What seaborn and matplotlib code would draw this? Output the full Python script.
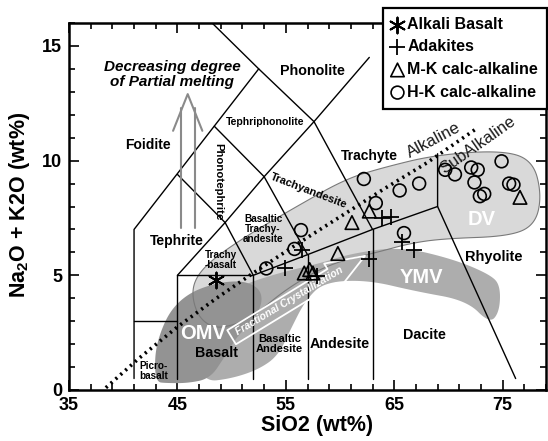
import numpy as np
import matplotlib
matplotlib.use("Agg")
import matplotlib.pyplot as plt
import seaborn as sns
from matplotlib.ticker import FixedLocator

# ---------------------------------------------------------------- data
# Total alkali vs silica of the analysed samples (wt%)
alkali_basalt_sio2 = [48.6]
alkali_basalt_alk = [4.8]

adakite_sio2 = [54.9, 56.5, 57.9, 62.7, 63.9, 64.7, 65.7, 66.8]
adakite_alk = [5.3, 6.1, 4.95, 5.7, 7.5, 7.55, 6.45, 6.1]

mk_sio2 = [56.7, 57.2, 57.5, 59.8, 61.1, 62.7, 76.6]
mk_alk = [5.1, 5.25, 5.1, 5.95, 7.3, 7.8, 8.4]

hk_sio2 = [53.2, 55.8, 56.4, 62.2, 63.3, 65.5, 67.3, 65.9, 69.7, 70.6,
           72.1, 72.7, 72.4, 72.9, 73.3, 74.9, 75.6, 76.0]
hk_alk = [5.3, 6.15, 6.97, 9.2, 8.15, 8.7, 9.0, 6.84, 9.6, 9.4,
          9.7, 9.6, 9.05, 8.45, 8.55, 9.97, 9.0, 8.95]

series_labels = ["Alkali Basalt", "Adakites", "M-K calc-alkaline", "H-K calc-alkaline"]

# TAS classification boundaries (Le Bas et al., 1986)
tas_boundaries = [
    [(41, 0.5), (41, 7), (52.5, 14)],
    [(41, 3), (45, 3)],
    [(45, 0.5), (45, 5), (52, 5), (52, 0.5)],
    [(45, 5), (49.4, 7.3), (53, 9.3), (57.6, 11.7), (62.7, 14.5)],
    [(49.4, 7.3), (52, 5)],
    [(45, 9.4), (49.4, 7.3)],
    [(48.4, 11.5), (53, 9.3), (57, 5.9)],
    [(48.2, 16), (52.5, 14), (57.6, 11.7), (63, 7)],
    [(52, 5), (57, 5.9), (63, 7), (69, 8)],
    [(57, 0.5), (57, 5.9)],
    [(63, 0.5), (63, 7)],
    [(69, 10.3), (69, 8), (76.2, 0.5)],
]

# Alkaline / subalkaline divide (Irvine & Baragar, 1971)
divide_sio2 = [38.4, 41.5, 45.0, 48.6, 52.0, 56.0, 60.0, 64.0, 68.0, 72.6]
divide_alk = [0.1, 1.4, 2.75, 4.0, 5.1, 6.35, 7.55, 8.75, 9.9, 11.4]

# Compositional fields of the volcanic suites
dv_field = [(46.3, 4.2), (46.8, 5.0), (48.5, 5.8), (52, 6.9), (56, 8.0), (60.5, 9.2),
            (64, 9.7), (68.8, 10.25), (75, 10.45), (77.8, 10.0), (78.6, 8.5), (78, 7.2),
            (75.6, 6.7), (69.6, 6.6), (66.5, 6.4), (63.4, 6.0), (59, 5.5), (55, 4.4),
            (52, 3.2), (50, 2.8), (48.3, 2.7), (46.9, 3.2)]
ymv_field = [(47.3, 0.35), (50, 0.5), (52.5, 0.9), (54.3, 1.5), (55.5, 2.7), (56.8, 3.9),
             (58.5, 4.7), (62.5, 4.8), (67, 4.3), (71.7, 3.9), (73.8, 2.9), (74.7, 3.4),
             (74.8, 4.5), (74, 5.0), (70.5, 5.7), (65.6, 6.25), (61, 5.95), (58, 5.5),
             (54.3, 5.1), (50.5, 4.5), (48, 3.5), (46.5, 2.0)]
omv_field = [(43.0, 0.35), (42.9, 1.5), (43.4, 2.5), (44.4, 3.5), (46, 4.2), (48.1, 4.6),
             (50, 4.75), (51.5, 4.7), (52.7, 4.35), (52.8, 3.7), (51.8, 2.9), (50.6, 2.4),
             (49.3, 1.4), (48, 0.5), (46, 0.3), (44, 0.3)]

x_ticks = [35, 45, 55, 65, 75]
y_ticks = [0, 5, 10, 15]


def smooth_closed(points, passes=4):
    """Chaikin corner cutting for a closed outline."""
    p = np.asarray(points, float)
    for _ in range(passes):
        q = np.roll(p, -1, axis=0)
        a = 0.75 * p + 0.25 * q
        b = 0.25 * p + 0.75 * q
        p = np.empty((2 * len(p), 2))
        p[0::2] = a
        p[1::2] = b
    return p


# ---------------------------------------------------------------- style
sns.set_style("ticks")
plt.rcParams["font.family"] = ["Liberation Sans", "DejaVu Sans"]
plt.rcParams["mathtext.fontset"] = "custom"
plt.rcParams["mathtext.rm"] = "Liberation Sans"
plt.rcParams["mathtext.bf"] = "Liberation Sans:bold"
for key in ("text.color", "axes.labelcolor", "xtick.color", "ytick.color", "axes.edgecolor"):
    plt.rcParams[key] = "black"

fig = plt.figure(figsize=(5.48, 4.41), dpi=100)
ax = fig.add_axes([69 / 548, 1 - 390 / 441, 477 / 548, 367 / 441])

# shaded fields
dv = smooth_closed(dv_field)
ymv = smooth_closed(ymv_field)
omv = smooth_closed(omv_field)
ax.fill(dv[:, 0], dv[:, 1], color="#d9d9d9", lw=0, zorder=1)
ax.fill(ymv[:, 0], ymv[:, 1], color="#adadad", lw=0, zorder=1.1)
ax.fill(omv[:, 0], omv[:, 1], color="#939393", lw=0, zorder=1.2)
ax.fill(dv[:, 0], dv[:, 1], facecolor="none", edgecolor="#7a7a7a", lw=0.8, zorder=1.3)

# classification grid
for seg in tas_boundaries:
    xs, ys = zip(*seg)
    ax.plot(xs, ys, color="black", lw=1.0, zorder=2)

# alkaline / subalkaline divide
sns.lineplot(x=divide_sio2, y=divide_alk, ax=ax, color="black", lw=2.6,
             linestyle=(0, (0.6, 1.2)), sort=False, zorder=3)

# partial melting arrow
arrow_c = "#8a8a8a"
ax.plot([45.3, 45.3], [7.05, 12.3], color=arrow_c, lw=1.5, zorder=2)
ax.plot([46.6, 46.6], [7.05, 12.3], color=arrow_c, lw=1.5, zorder=2)
ax.plot([44.6, 45.95, 47.3], [11.3, 12.9, 11.3], color=arrow_c, lw=1.5, zorder=2)
ax.text(44.5, 13.75, "Decreasing degree\nof Partial melting", ha="center", va="center",
        fontsize=11, fontweight="bold", fontstyle="italic", linespacing=1.05, zorder=4)

# fractional crystallization arrow
ax.annotate("", xy=(62.3, 5.85), xytext=(50.0, 2.3),
            arrowprops=dict(arrowstyle="simple,head_width=1.5,head_length=2.0,tail_width=0.85",
                            fc="none", ec="white", lw=1.3, mutation_scale=14,
                            shrinkA=0, shrinkB=0), zorder=3)
ax.text(55.3, 3.9, "Fractional Crystallization", rotation=31, ha="center", va="center",
        fontsize=7.5, fontstyle="italic", fontweight="bold", color="white",
        rotation_mode="anchor", zorder=4)

# field names
bold_labels = [
    ("Foidite", 42.3, 10.7, 10, 0),
    ("Phonolite", 57.5, 13.9, 10.3, 0),
    ("Tephriphonolite", 53.1, 11.7, 7.6, 0),
    ("Phonotephrite", 48.8, 9.1, 8.2, -90),
    ("Trachyandesite", 57.1, 8.7, 8, -21),
    ("Trachyte", 62.7, 10.2, 10, 0),
    ("Basaltic\nTrachy-\nandesite", 52.9, 7.0, 7.2, 0),
    ("Tephrite", 44.9, 6.5, 10, 0),
    ("Trachy\n-basalt", 49.0, 5.65, 7.2, 0),
    ("Picro-\nbasalt", 42.8, 0.85, 7.2, 0),
    ("Basalt", 48.6, 1.6, 10.3, 0),
    ("Basaltic\nAndesite", 54.4, 2.0, 8, 0),
    ("Andesite", 60.0, 2.0, 10.3, 0),
    ("Dacite", 67.8, 2.4, 10.3, 0),
    ("Rhyolite", 74.2, 5.8, 10.5, 0),
]
for txt, x, y, fs, rot in bold_labels:
    ax.text(x, y, txt, ha="center", va="center", fontsize=fs, fontweight="bold",
            rotation=rot, rotation_mode="anchor", linespacing=1.0, zorder=4)

for txt, x, y in [("OMV", 47.4, 2.45), ("YMV", 67.5, 4.9), ("DV", 73.1, 7.45)]:
    ax.text(x, y, txt, ha="center", va="center", fontsize=14.5, fontweight="bold",
            color="white", zorder=4)

ax.text(68.6, 10.9, "Alkaline", rotation=28, ha="center", va="center", fontsize=12,
        color="#1a1a1a", rotation_mode="anchor", zorder=4)
ax.text(72.7, 10.7, "SubAlkaline", rotation=35, ha="center", va="center", fontsize=12,
        color="#1a1a1a", rotation_mode="anchor", zorder=4)

# samples
sns.scatterplot(x=alkali_basalt_sio2, y=alkali_basalt_alk, ax=ax, marker=(6, 2, 0),
                color="black", s=130, linewidth=1.4, label=series_labels[0], zorder=6)
sns.scatterplot(x=adakite_sio2, y=adakite_alk, ax=ax, marker="+", color="black",
                s=120, linewidth=1.3, label=series_labels[1], zorder=6)
sns.scatterplot(x=mk_sio2, y=mk_alk, ax=ax, marker="^", facecolor="none",
                edgecolor="black", s=95, linewidth=1.2, label=series_labels[2], zorder=6)
sns.scatterplot(x=hk_sio2, y=hk_alk, ax=ax, marker="o", facecolor="none",
                edgecolor="black", s=85, linewidth=1.2, label=series_labels[3], zorder=6)

# axes
ax.set_xlim(35, 79)
ax.set_ylim(0, 16)
ax.set_xticks(x_ticks)
ax.set_xticklabels([str(t) for t in x_ticks], fontsize=13, fontweight="bold")
ax.set_yticks(y_ticks)
ax.set_yticklabels([str(t) for t in y_ticks], fontsize=13, fontweight="bold")
ax.xaxis.set_minor_locator(FixedLocator(np.arange(35, 80, 2)))
ax.yaxis.set_minor_locator(FixedLocator(np.arange(0, 17, 1)))
ax.tick_params(which="both", direction="in", top=True, right=True, width=1.2,
               colors="black")
ax.tick_params(which="major", length=7, pad=5)
ax.tick_params(which="minor", length=4)
for sp in ax.spines.values():
    sp.set_linewidth(1.8)
    sp.set_color("black")

ax.set_xlabel("SiO2 (wt%)", fontsize=15.5, fontweight="bold")
ax.set_ylabel(r"Na$_\mathbf{2}$O + K2O (wt%)", fontsize=15.5, fontweight="bold")
ax.xaxis.set_label_coords(0.519, -0.068)
ax.yaxis.set_label_coords(-0.078, 0.505)

handles, labels = ax.get_legend_handles_labels()
leg = ax.legend(handles, labels, loc="upper right", bbox_to_anchor=(547 / 548, 1 - 8 / 441),
                bbox_transform=fig.transFigure, frameon=True, fancybox=False,
                edgecolor="black", framealpha=1, prop={"weight": "bold", "size": 11.5},
                handletextpad=0.25, borderpad=0.55, labelspacing=0.48, handlelength=0.75,
                borderaxespad=0)
leg.get_frame().set_linewidth(1.6)
leg.set_zorder(10)
for t in leg.get_texts():
    t.set_color("black")

fig.savefig("out.png", dpi=100)
